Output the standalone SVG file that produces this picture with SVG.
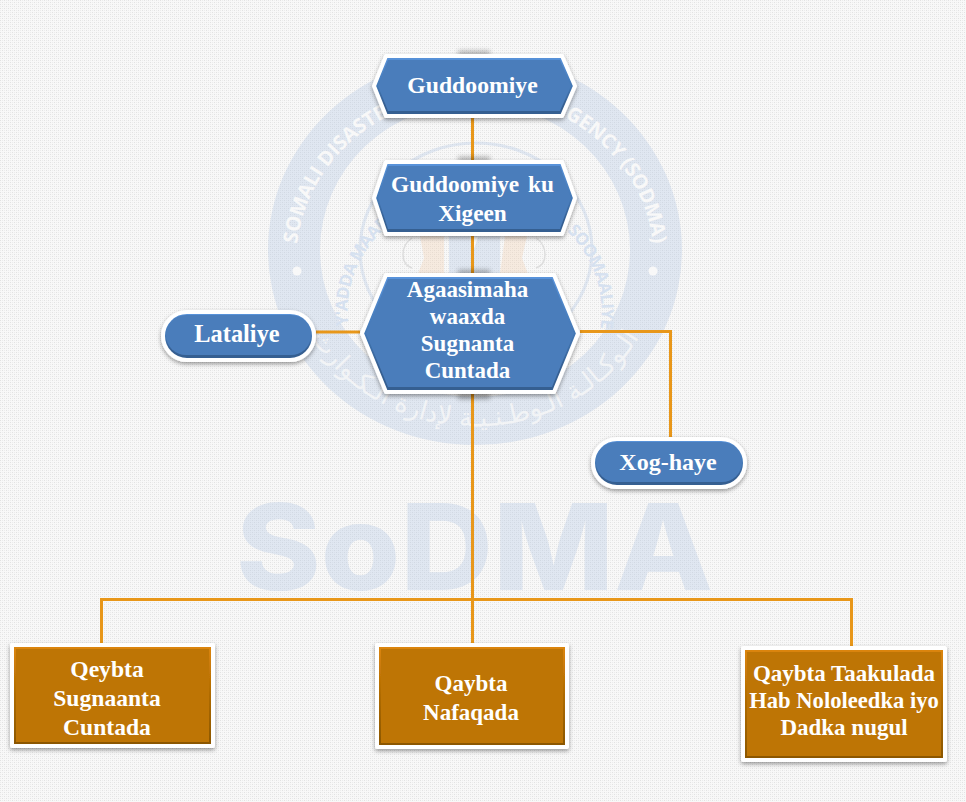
<svg xmlns="http://www.w3.org/2000/svg" width="966" height="802" viewBox="0 0 966 802">
<style>
.t{font-family:"Liberation Serif","Times New Roman",serif;font-weight:700;font-size:23px;fill:#fff;text-anchor:middle}
.wm{fill:#a9c1e0;fill-opacity:.3}
.arc{font-family:"Open Sans","Liberation Sans",sans-serif;font-weight:700;text-anchor:middle}
.base{stroke:#fff;stroke-width:4;stroke-linejoin:round;filter:url(#sh)}
.bl{fill:url(#bb)}
.or{fill:url(#ob)}
.bf{fill:#4a7dbb}
.of{fill:#be7505}
.c{fill:none;stroke:#e8971a;stroke-width:3}
</style>
<defs>
<pattern id="bg" width="4" height="4" patternUnits="userSpaceOnUse">
<rect width="4" height="4" fill="#f8f8f8"/>
<rect width="1" height="1" fill="#e2e2e2"/><rect x="2" y="2" width="1" height="1" fill="#e2e2e2"/>
<rect x="2" width="1" height="1" fill="#ececec"/><rect y="2" width="1" height="1" fill="#ececec"/>
</pattern>
<linearGradient id="bb" x1="0" y1="0" x2="0" y2="1"><stop offset="0" stop-color="#5a94dc"/><stop offset=".5" stop-color="#4378b5"/><stop offset=".8" stop-color="#365f91"/><stop offset="1" stop-color="#365f91"/></linearGradient>
<linearGradient id="ob" x1="0" y1="0" x2="0" y2="1"><stop offset="0" stop-color="#dd860a"/><stop offset=".5" stop-color="#ae6a04"/><stop offset="1" stop-color="#8a5603"/></linearGradient>
<filter id="sh" x="-10%" y="-15%" width="120%" height="135%"><feDropShadow dx="0" dy="2" stdDeviation="2.2" flood-color="#000" flood-opacity=".38"/></filter>
<filter id="bl" x="-30%" y="-150%" width="160%" height="400%"><feGaussianBlur stdDeviation="2.5"/></filter>
<path id="p1" d="M296 262A178 166 0 1 1 654 262"/>
<path id="p2" d="M349 330A127 118 0 1 1 600 330"/>
<path id="p3" d="M297 309A189 177 0 0 0 653 309"/>
</defs>
<rect width="966" height="802" fill="url(#bg)"/>
<g id="watermark">
<path class="wm" fill-rule="evenodd" d="M268 250a207 195 0 1 0 414 0a207 195 0 1 0 -414 0ZM320 250a155 147 0 1 0 310 0a155 147 0 1 0 -310 0Z"/>
<ellipse cx="476" cy="250" rx="116" ry="107" fill="none" stroke="#a9c1e0" stroke-opacity=".3" stroke-width="3"/>
<text class="arc" font-size="20" fill="#f8f8f8"><textPath href="#p1" startOffset="50%">SOMALI DISASTER MANAGEMENT AGENCY (SODMA)</textPath></text>
<text class="arc" font-size="17" fill="#d6e1f0" letter-spacing="-.5"><textPath href="#p2" startOffset="50%">HAY'ADDA MAAREYNTA MASIIBOOYINKA SOOMAALIYEED</textPath></text>
<text font-family="'DejaVu Sans',sans-serif" font-size="26" fill="#f8f8f8" fill-opacity=".8" text-anchor="middle" direction="rtl"><textPath href="#p3" startOffset="50%">الـوكـالـة الـوطـنـيـة لإدارة الـكـوارث</textPath></text>
<circle cx="297" cy="271" r="4.500" fill="#f8f8f8"/><circle cx="653" cy="271" r="4.500" fill="#f8f8f8"/>
<rect x="449" y="236" width="51" height="38" fill="#a9c1e0" fill-opacity=".3"/>
<path d="M470 237h8l-4 12Z" fill="#f8f8f8"/>
<path d="M420 236h24v38h-26l6-16ZM505 236h22l-5 22l6 16h-28Z" fill="#f3c9a4" fill-opacity=".3"/>
<path d="M412 238c-12 8-12 26 0 30M536 238c12 8 12 26 0 30" fill="none" stroke="#ddd" stroke-width="1.500"/>
<text x="474.500" y="590" font-family="Inter,'Liberation Sans',Arial,sans-serif" font-weight="800" font-size="120" text-anchor="middle" textLength="477" lengthAdjust="spacingAndGlyphs" class="wm">SoDMA</text>
</g>
<g id="connectors">
<path class="c" d="M472.500 118V643"/>
<path class="c" d="M101.500 643V599.500H851.500V646"/>
<path class="c" d="M316 332H360"/>
<path class="c" d="M580 331.500H670.500V437"/>
<rect x="458" y="51" width="32" height="5" fill="#000" opacity=".3" filter="url(#bl)"/>
<rect x="458" y="157" width="32" height="5" fill="#000" opacity=".3" filter="url(#bl)"/>
<rect x="458" y="270" width="32" height="5" fill="#000" opacity=".3" filter="url(#bl)"/>
<rect x="458" y="393" width="32" height="6" fill="#000" opacity=".3" filter="url(#bl)"/>
</g>
<g id="node-guddoomiye">
<path class="base bl" d="M374 86L386 56H562L575 86L562 116H386Z"/>
<path class="bf" d="M378 86L388 60H560L571 86L560 111H388Z"/>
<text class="t" style="font-size:23.700px" x="472.500" y="93">Guddoomiye</text>
</g>
<g id="node-guddoomiye-ku-xigeen">
<path class="base bl" d="M374 198L386 162H562L575 198L562 234H386Z"/>
<path class="bf" d="M378 198L388 166H560L571 198L560 229H388Z"/>
<text class="t" style="font-size:23.300px" x="472.500" y="192" word-spacing="3">Guddoomiye ku</text>
<text class="t" style="font-size:23.300px" x="472.500" y="221">Xigeen</text>
</g>
<g id="node-agaasimaha">
<path class="base bl" d="M362 333.500L386 275H554L578 333.500L554 392H386Z"/>
<path class="bf" d="M366 333.500L388 279H552L574 333.500L552 387H388Z"/>
<text class="t" x="467.500" y="297">Agaasimaha</text>
<text class="t" x="467.500" y="324">waaxda</text>
<text class="t" x="467.500" y="351">Sugnanta</text>
<text class="t" x="467.500" y="378">Cuntada</text>
</g>
<g id="node-lataliye">
<rect class="base bl" x="163" y="312" width="151" height="48" rx="24"/>
<rect class="bf" x="166" y="315" width="145" height="40" rx="20"/>
<text class="t" style="font-size:24.400px" x="237" y="342">Lataliye</text>
</g>
<g id="node-xog-haye">
<rect class="base bl" x="593" y="439" width="152" height="48" rx="24"/>
<rect class="bf" x="596" y="442" width="146" height="40" rx="20"/>
<text class="t" style="font-size:24px" x="668" y="470">Xog-haye</text>
</g>
<g id="node-qeybta-sugnaanta">
<rect class="base or" x="12" y="645" width="201" height="101"/>
<rect class="of" x="16" y="649" width="193" height="93"/>
<text class="t" style="font-size:23.600px" x="107" y="677">Qeybta</text>
<text class="t" style="font-size:23.600px" x="107" y="706">Sugnaanta</text>
<text class="t" style="font-size:23.600px" x="107" y="735">Cuntada</text>
</g>
<g id="node-qaybta-nafaqada">
<rect class="base or" x="377" y="645" width="190" height="102"/>
<rect class="of" x="381" y="649" width="182" height="94"/>
<text class="t" x="471" y="691">Qaybta</text>
<text class="t" x="471" y="720">Nafaqada</text>
</g>
<g id="node-qaybta-taakulada">
<rect class="base or" x="743" y="648" width="202" height="112"/>
<rect class="of" x="747" y="652" width="194" height="104"/>
<text class="t" x="844" y="681">Qaybta Taakulada</text>
<text class="t" style="font-size:22.600px" x="844" y="708">Hab Nololeedka iyo</text>
<text class="t" x="844" y="735">Dadka nugul</text>
</g>
</svg>
